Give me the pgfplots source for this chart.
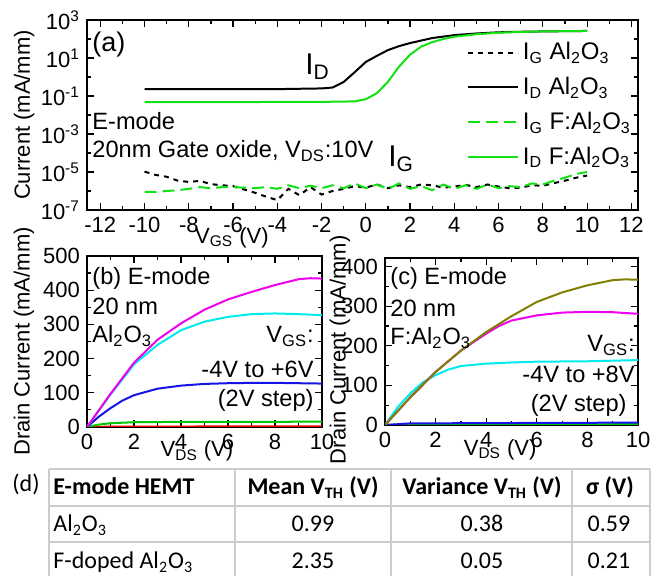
\documentclass[border=0pt]{standalone}
\usepackage{fontspec}
\setmainfont{Liberation Sans}
\newfontfamily\tabfont{Carlito}
\usepackage{pgfplots}
\pgfplotsset{compat=1.18}

\definecolor{lgreen}{RGB}{20,225,20}
\definecolor{pmag}{RGB}{240,0,240}
\definecolor{pcyan}{RGB}{0,235,235}
\definecolor{pblue}{RGB}{20,20,230}
\definecolor{polive}{RGB}{128,128,0}
\definecolor{pgreen}{RGB}{0,200,0}
\definecolor{pred}{RGB}{230,0,0}

\pgfplotsset{
  panel/.style={
    scale only axis,
    anchor=south west,
    axis line style={line width=0.8pt},
    tick align=inside,
    major tick length=3.5pt,
    minor tick length=2pt,
    every tick/.style={black, line width=0.6pt},
    tick label style={font=\fontsize{11}{13}\selectfont},
    label style={font=\fontsize{11}{13}\selectfont},
    /pgf/number format/assume math mode=true,
    xlabel style={anchor=base},
    ylabel style={anchor=center},
    every axis plot/.append style={line width=1pt},
  }
}

\begin{document}
\begin{tikzpicture}
\useasboundingbox (0,0) rectangle (332pt,-288pt);

% (a) transfer curves
\begin{axis}[panel,
  at={(43.5pt,-105pt)}, width=275.5pt, height=95pt,
  ymode=log, xmin=-12.6, xmax=12.3, ymin=1e-7, ymax=1e3,
  xtick={-12,-10,...,12}, minor x tick num=1,
  ytick={1e-7,1e-5,1e-3,1e-1,1e1,1e3},
  yticklabels={10\textsuperscript{-7},10\textsuperscript{-5},10\textsuperscript{-3},10\textsuperscript{-1},10\textsuperscript{1},10\textsuperscript{3}},
  minor ytick={1e-6,1e-4,1e-2,1,1e2},
  xlabel={V\textsubscript{GS} (V)},
  xlabel style={at={(axis description cs:0.263,-0.174)}},
  ylabel={Current (mA/mm)},
  ylabel style={at={(axis description cs:-0.114,0.5)}},
  legend style={at={(axis description cs:0.995,0.905)}, anchor=north east,
    draw=none, fill=none, font=\fontsize{12}{14}\selectfont,
    row sep=3.2pt, inner sep=0pt},
  legend cell align=left,
  legend image code/.code={\draw[#1] (0pt,0pt) -- (25pt,0pt);},
]
\addplot[black, dash pattern=on 2.5pt off 2.5pt] coordinates {
 (-10,1.05e-5)(-9.5,7e-6)(-9,5.6e-6)(-8.5,3.5e-6)(-8,3e-6)(-7.5,3.4e-6)
 (-7,2.3e-6)(-6.5,2e-6)(-6,1.8e-6)(-5.5,1.2e-6)(-5,8e-7)(-4.5,5e-7)
 (-4,3.3e-7)(-3.5,1.3e-6)(-3,6e-7)(-2.5,1.6e-6)(-2,6.5e-7)(-1.5,1e-6)
 (-1,1.3e-6)(-0.5,1.8e-6)(0,1.5e-6)(0.5,2.2e-6)(1,1.4e-6)(1.5,2e-6)
 (2,1.6e-6)(2.5,2.2e-6)(3,2e-6)(3.5,1.5e-6)(4,1.7e-6)(4.5,2.1e-6)
 (5,1.6e-6)(5.5,2.2e-6)(6,1.7e-6)(6.5,1.4e-6)(7,1.5e-6)(7.5,2e-6)
 (8,1.9e-6)(8.5,2.6e-6)(9,3.5e-6)(9.5,5e-6)(10,6.5e-6)
};
\addlegendentry{I\textsubscript{G} Al\textsubscript{2}O\textsubscript{3}}
\addplot[black] coordinates {
 (-10,0.23)(-8,0.23)(-6,0.23)(-4,0.23)(-3,0.24)(-2,0.25)(-1.5,0.28)
 (-1,0.55)(-0.5,1.8)(0,6.2)(0.5,13)(1,26)(1.5,42)(2,61)(3,112)(4,160)
 (5,195)(6,225)(7,240)(8,250)(9,258)(10,265)
};
\addlegendentry{I\textsubscript{D} Al\textsubscript{2}O\textsubscript{3}}
\addplot[lgreen, dash pattern=on 6pt off 3pt] coordinates {
 (-10,8.9e-7)(-9.5,8.9e-7)(-9,1.0e-6)(-8.5,1.1e-6)(-8,1.3e-6)(-7.5,1.6e-6)
 (-7,1.4e-6)(-6.5,1.6e-6)(-6,1.6e-6)(-5.5,1.5e-6)(-5,1.4e-6)(-4.5,1.6e-6)
 (-4,1.3e-6)(-3.5,2.0e-6)(-3,1.4e-6)(-2.5,1.9e-6)(-2,1.4e-6)(-1.5,2.0e-6)
 (-1,1.4e-6)(-0.5,2.5e-6)(0,1.4e-6)(0.5,2.2e-6)(1,1.3e-6)(1.5,2.5e-6)
 (2,1.3e-6)(2.5,1.8e-6)(3,1.1e-6)(3.5,2.2e-6)(4,1.3e-6)(4.5,2.0e-6)
 (5,1.3e-6)(5.5,2.2e-6)(6,1.4e-6)(6.5,1.8e-6)(7,1.6e-6)(7.5,2.5e-6)
 (8,2.2e-6)(8.5,3.5e-6)(9,5.0e-6)(9.5,7.9e-6)(10,1.0e-5)
};
\addlegendentry{I\textsubscript{G} F:Al\textsubscript{2}O\textsubscript{3}}
\addplot[lgreen] coordinates {
 (-10,0.048)(-6,0.048)(-2,0.049)(-0.5,0.052)(0,0.068)(0.5,0.14)(1,0.56)
 (1.5,3.5)(2,15)(2.5,40)(3,68)(3.5,100)(4,132)(5,178)(6,215)(7,235)
 (8,250)(9,258)(10,265)
};
\addlegendentry{I\textsubscript{D} F:Al\textsubscript{2}O\textsubscript{3}}
\end{axis}

% (b) output curves, Al2O3
\begin{axis}[panel,
  at={(43.5pt,-213.5pt)}, width=117.5pt, height=85.5pt,
  xmin=0, xmax=10, ymin=0, ymax=500,
  xtick={0,2,...,10}, minor x tick num=1,
  ytick={0,100,...,500}, minor y tick num=1,
  xlabel={V\textsubscript{DS} (V)},
  xlabel style={at={(axis description cs:0.468,-0.175)}},
  ylabel={Drain Current (mA/mm)},
  ylabel style={at={(axis description cs:-0.268,0.5)}},
]
\addplot[pred] coordinates {(0,0)(1,1)(5,1.5)(10,2)};
\addplot[pgreen] coordinates {(0,0)(0.5,7)(1,11)(2,14)(4,15)(6,15)(8,15)(10,16)};
\addplot[pblue] coordinates {
 (0,0)(0.5,30)(1,55)(1.5,77)(2,93)(3,112)(4,121)(5,126)(6,128)(7,129)
 (8,129)(9,128)(10,127)};
\addplot[pcyan] coordinates {
 (0,0)(1,95)(2,183)(3,240)(4,283)(5,308)(6,322)(7,330)(8,332)(9,330)(10,327)};
\addplot[pmag] coordinates {
 (0,0)(1,97)(2,188)(3,255)(4,303)(5,343)(6,373)(7,395)(8,415)(9,432)
 (9.5,435)(10,434)};
\end{axis}

% (c) output curves, F:Al2O3
\begin{axis}[panel,
  at={(192.5pt,-212.5pt)}, width=126.5pt, height=83.5pt,
  xmin=0, xmax=10, ymin=0, ymax=422,
  xtick={0,2,...,10}, minor x tick num=1,
  ytick={0,100,...,400}, minor y tick num=1,
  xlabel={V\textsubscript{DS} (V)},
  xlabel style={at={(axis description cs:0.455,-0.18)}},
  ylabel={Drain Current (mA/mm)},
  ylabel style={at={(axis description cs:-0.178,0.45)}},
]
\addplot[pred] coordinates {(0,0)(10,0.5)};
\addplot[pgreen] coordinates {(0,0)(1,1)(10,2)};
\addplot[pblue] coordinates {(0,0)(1,4)(5,5)(10,6)};
\addplot[pcyan] coordinates {
 (0,0)(0.5,45)(1,80)(1.5,108)(2,126)(2.5,140)(3,149)(4,155)(5,158)(6,160)
 (8,161)(10,164)};
\addplot[pmag] coordinates {
 (0,0)(1,70)(2,134)(3,188)(4,231)(4.5,250)(5,264)(6,277)(7,284)(8,286)
 (9,285)(10,281)};
\addplot[polive] coordinates {
 (0,0)(1,70)(2,134)(3,188)(4,235)(5,275)(6,311)(7,335)(8,353)(9,366)
 (9.5,368)(10,367)};
\end{axis}

% annotations and table (pixel units)
\begin{scope}[x=0.5pt, y=-0.5pt, every node/.style={inner sep=0pt},
  font=\fontsize{11.8}{14}\selectfont]
\node[anchor=base west, font=\fontsize{13.5}{15}\selectfont] at (92,52) {(a)};
\node[anchor=base west] at (92,130) {E-mode};
\node[anchor=base west] at (92,158) {20nm Gate oxide, V\textsubscript{DS}:10V};
\node[anchor=base west, font=\fontsize{15}{17}\selectfont] at (305,75) {I\textsubscript{D}};
\node[anchor=base west, font=\fontsize{15}{17}\selectfont] at (388,167) {I\textsubscript{G}};

\node[anchor=base west] at (92,285) {(b) E-mode};
\node[anchor=base west] at (92,315) {20 nm};
\node[anchor=base west] at (92,343) {Al\textsubscript{2}O\textsubscript{3}};
\node[anchor=base east] at (314,343) {V\textsubscript{GS}:};
\node[anchor=base east] at (314,378) {-4V to +6V};
\node[anchor=base east] at (314,407) {(2V step)};

\node[anchor=base west] at (390,285) {(c) E-mode};
\node[anchor=base west] at (390,317) {20 nm};
\node[anchor=base west] at (390,345) {F:Al\textsubscript{2}O\textsubscript{3}};
\node[anchor=base east] at (635,352) {V\textsubscript{GS}:};
\node[anchor=base east] at (635,383) {-4V to +8V};
\node[anchor=base east] at (627,412) {(2V step)};

\draw[black!20, line width=0.6pt]
  (49,469) -- (650,469) (49,506) -- (650,506) (49,542) -- (650,542)
  (49,469) -- (49,576) (235,469) -- (235,576) (391,469) -- (391,576)
  (572,469) -- (572,576) (650,469) -- (650,576);
\begin{scope}[font=\tabfont\fontsize{12}{14}\selectfont]
\node[anchor=base west] at (12,492) {(d)};
\node[anchor=base west, font=\tabfont\bfseries\fontsize{12}{14}\selectfont] at (53,495) {E-mode HEMT};
\node[anchor=base, font=\tabfont\bfseries\fontsize{12}{14}\selectfont] at (313,495) {Mean V\textsubscript{TH} (V)};
\node[anchor=base, font=\tabfont\bfseries\fontsize{12}{14}\selectfont] at (482,495) {Variance V\textsubscript{TH} (V)};
\node[anchor=base, font=\tabfont\bfseries\fontsize{12}{14}\selectfont] at (610,495) {σ (V)};
\node[anchor=base west] at (53,532) {Al\textsubscript{2}O\textsubscript{3}};
\node[anchor=base] at (313,532) {0.99};
\node[anchor=base] at (482,532) {0.38};
\node[anchor=base] at (609,532) {0.59};
\node[anchor=base west] at (53,569) {F-doped Al\textsubscript{2}O\textsubscript{3}};
\node[anchor=base] at (313,569) {2.35};
\node[anchor=base] at (482,569) {0.05};
\node[anchor=base] at (609,569) {0.21};
\end{scope}
\end{scope}
\end{tikzpicture}
\end{document}
